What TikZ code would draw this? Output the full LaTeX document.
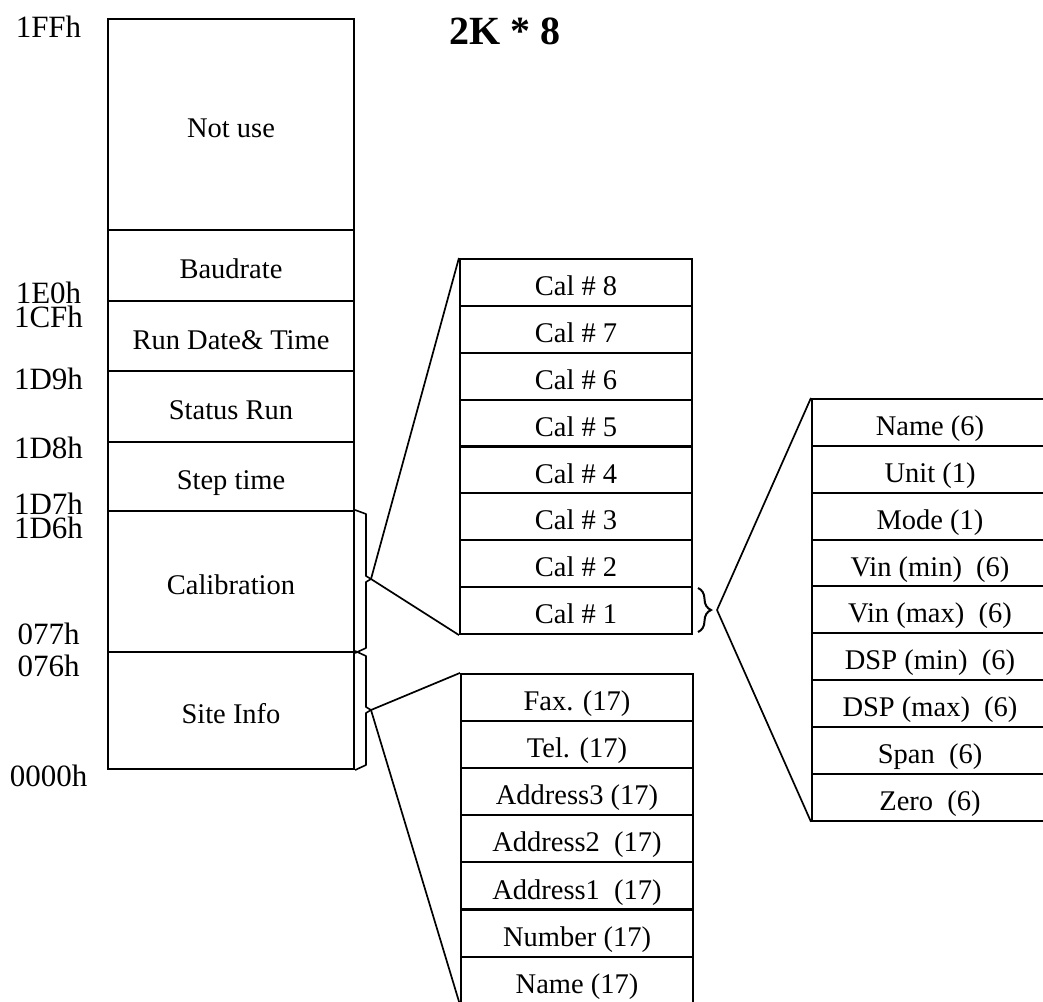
\documentclass[tikz,border=0pt]{standalone}
\usepackage{fontspec}
\setmainfont{Liberation Serif}
\usetikzlibrary{decorations.pathreplacing}
\begin{document}
\begin{tikzpicture}[x=1pt,y=-1pt,
  cell/.style={draw, line width=2.1pt, rectangle, inner sep=0pt,
    font=\fontsize{28.5}{31}\selectfont, text height=26.2pt, text depth=0pt},
  mainbox/.style={cell, minimum width=246pt},
  calrow/.style={cell, minimum width=232pt, minimum height=46.875pt},
  siterow/.style={cell, minimum width=232pt, minimum height=47.1pt},
  detrow/.style={cell, minimum width=236pt, minimum height=46.85pt},
  addr/.style={font=\fontsize{31}{33}\selectfont, inner sep=0pt, text height=21pt, text depth=0pt},
  conn/.style={line width=1.7pt},
  bracket/.style={line width=1.6pt, line join=round}
]
\useasboundingbox (0,0) rectangle (1043,1001);
\clip (0,0) rectangle (1043,1001);
\fill[white] (0,0) rectangle (1043,1001);

% title
\node[font=\fontsize{40}{44}\selectfont\bfseries, inner sep=0pt] (title) at (505,31) {2K * 8};

% main memory map
\node[mainbox, minimum height=211pt] (notuse) at (231,124.5) {Not use};
\node[mainbox, minimum height=71pt] (baud) at (231,265.5) {Baudrate};
\node[mainbox, minimum height=70pt] (rundt) at (231,336) {Run Date\& Time};
\node[mainbox, minimum height=71pt] (status) at (231,406.5) {Status Run};
\node[mainbox, minimum height=69pt] (steptime) at (231,476.5) {Step time};
\node[mainbox, minimum height=141pt] (calib) at (231,581.5) {Calibration};
\node[mainbox, minimum height=117pt] (site) at (231,710.5) {Site Info};

% addresses
\node[addr] (a1FF) at (48.5,27) {1FFh};
\node[addr] (a1E0) at (48.5,293) {1E0h};
\node[addr] (a1CF) at (48.5,317) {1CFh};
\node[addr] (a1D9) at (48.5,379) {1D9h};
\node[addr] (a1D8) at (48.5,448) {1D8h};
\node[addr] (a1D7) at (48.5,504) {1D7h};
\node[addr] (a1D6) at (48.5,528) {1D6h};
\node[addr] (a077) at (48.5,634) {077h};
\node[addr] (a076) at (48.5,666) {076h};
\node[addr] (a0000) at (48.5,776) {0000h};

% calibration table
\foreach \t [count=\i from 0] in {8,7,6,5,4,3,2,1}
  \node[calrow] (cal\t) at (576,{259+46.875*(\i+0.5)}) {Cal \# \t};

% site info table
\foreach \t [count=\i from 0] in {{Fax. (17)},{Tel. (17)},{Address3 (17)},{Address2~ (17)},{Address1~ (17)},{Number (17)},{Name (17)}}
  \node[siterow] (site\i) at (577,{674+47.1*(\i+0.5)}) {\t};

% calibration detail table
\foreach \t [count=\i from 0] in {{Name (6)},{Unit (1)},{Mode (1)},{Vin (min)~ (6)},{Vin (max)~ (6)},{DSP (min)~ (6)},{DSP (max)~ (6)},{Span~ (6)},{Zero~ (6)}}
  \node[detrow] (det\i) at (930,{399+46.85*(\i+0.5)}) {\t};

% brackets on the main map
\coordinate (caltip) at (371,579);
\coordinate (sitetip) at (371,710);
\draw[bracket] (calib.north east) -- (366,514) -- (366,576) -- (caltip) -- (366,582) -- (366,648) -- (calib.south east);
\draw[bracket] (site.north east) -- (366,656) -- (366,707) -- (sitetip) -- (366,713) -- (366,765) -- (site.south east);

% brace next to Cal # 1
\draw[line width=2pt, decorate, decoration={brace, amplitude=13pt}] (698,588) -- (698,632);
\coordinate (calbrace) at (717,610);

% connectors
\draw[conn] (caltip) -- (cal8.north west);
\draw[conn] (caltip) -- (cal1.south west);
\draw[conn] (sitetip) -- (site0.north west);
\draw[conn] (sitetip) -- (site6.south west);
\draw[conn] (calbrace) -- (det0.north west);
\draw[conn] (calbrace) -- (det8.south west);
\end{tikzpicture}
\end{document}
